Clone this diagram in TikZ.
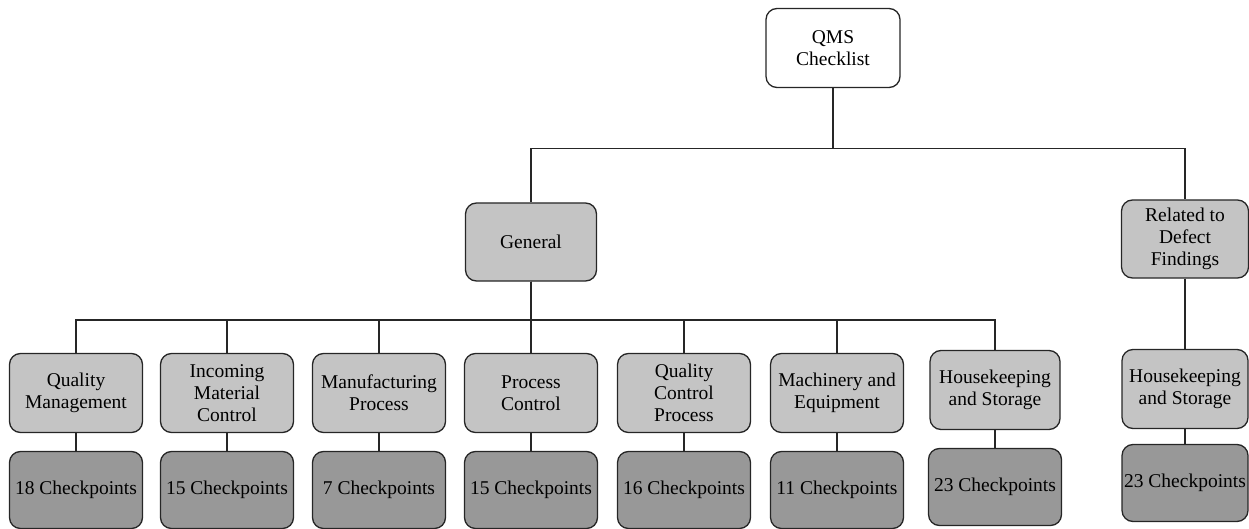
\documentclass[tikz,border=0pt]{standalone}
\usepackage{fontspec}
\setmainfont{Liberation Serif}
\definecolor{catgray}{RGB}{196,196,196}
\definecolor{cntgray}{RGB}{152,152,152}
\begin{document}
\begin{tikzpicture}[x=1pt,y=-1pt,
  box/.style={draw=black!85, line width=1.3pt, rounded corners=11pt, align=center,
    font=\fontsize{19.5}{22}\selectfont, inner sep=0pt},
  rootbox/.style={box, fill=white, minimum width=134pt, minimum height=79pt},
  groupbox/.style={box, fill=catgray, minimum width=131pt, minimum height=78pt},
  catbox/.style={box, fill=catgray, minimum width=133pt, minimum height=79pt},
  cntbox/.style={box, fill=cntgray, minimum width=133pt, minimum height=77pt},
  link/.style={draw=black!85, line width=1.2pt}]
\useasboundingbox (0,0) rectangle (1249,529);

% top level
\node[rootbox] (root) at (833,48) {QMS\\Checklist};
\node[groupbox] (gen) at (531,242) {General};
\node[groupbox, minimum width=127pt] (rel) at (1185,239) {Related to\\Defect\\Findings};

% categories under General
\node[catbox] (c1) at (76,393)  {Quality\\Management};
\node[catbox] (c2) at (227,393) {Incoming\\Material\\Control};
\node[catbox] (c3) at (379,393) {Manufacturing\\Process};
\node[catbox] (c4) at (531,393) {Process\\Control};
\node[catbox] (c5) at (684,393) {Quality\\Control\\Process};
\node[catbox] (c6) at (837,393) {Machinery and\\Equipment};
\node[catbox, minimum width=130pt] (c7) at (995,390) {Housekeeping\\and Storage};
\node[catbox, minimum width=126pt] (c8) at (1185,389) {Housekeeping\\and Storage};

% checkpoint counts
\node[cntbox] (n1) at (76,490)  {18 Checkpoints};
\node[cntbox] (n2) at (227,490) {15 Checkpoints};
\node[cntbox] (n3) at (379,490) {7 Checkpoints};
\node[cntbox] (n4) at (531,490) {15 Checkpoints};
\node[cntbox] (n5) at (684,490) {16 Checkpoints};
\node[cntbox] (n6) at (837,490) {11 Checkpoints};
\node[cntbox] (n7) at (995,487) {23 Checkpoints};
\node[cntbox, minimum width=126pt] (n8) at (1185,483) {23 Checkpoints};

% connectors
\draw[link] (root.south) -- ++(0,60) -| (gen.north);
\draw[link] (root.south) -- ++(0,60) -| (rel.north);
\coordinate (bus) at (0,320);
\foreach \c in {c1,c2,c3,c4,c5,c6,c7}
  \draw[link] (gen.south) |- (bus -| \c.north) -- (\c.north);
\draw[link] (rel.south) -- (c8.north);
\foreach \i in {1,...,8}
  \draw[link] (c\i.south) -- (n\i.north);
\end{tikzpicture}
\end{document}
